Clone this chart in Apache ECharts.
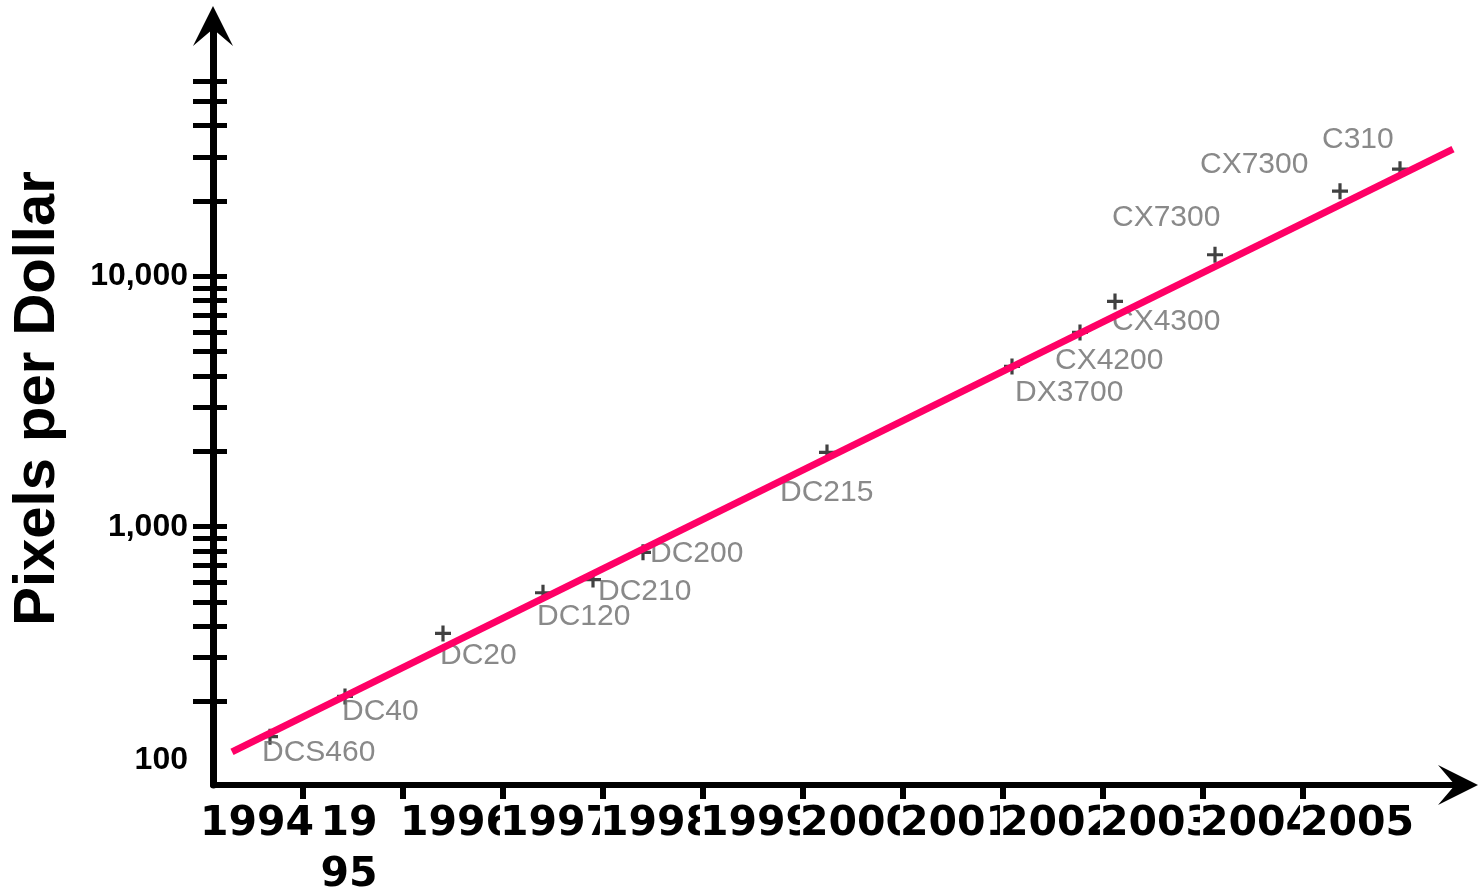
<!DOCTYPE html>
<html>
<head>
<meta charset="utf-8">
<script src="https://cdn.jsdelivr.net/npm/echarts@6/dist/echarts.min.js"></script>
<style>
  html, body { margin: 0; padding: 0; background: #ffffff; }
  #chart { width: 1480px; height: 892px; }
</style>
</head>
<body>
<div id="chart"></div>
<script>
// Camera models, their release dates (fractional years) and pixels per dollar
const cameras = ['DCS460', 'DC40', 'DC20', 'DC120', 'DC210', 'DC200', 'DC215',
                 'DX3700', 'CX4200', 'CX4300', 'CX7300', 'CX7300', 'C310'];
const releaseYears = [1994.67, 1995.42, 1996.40, 1997.40, 1997.90, 1998.40, 2000.24,
                      2002.09, 2002.77, 2003.12, 2004.12, 2005.37, 2005.97];
const pixelsPerDollar = [145, 210, 375, 545, 615, 790, 1980,
                         4370, 5970, 7940, 12200, 21900, 26800];

// Exponential trend line (straight on the log axis): two end points
const trendYears = [1994.29, 2006.5];
const trendValues = [126, 32200];

// Axis ticks and labels
const yearLabels = [1994, 1995, 1996, 1997, 1998, 1999, 2000, 2001, 2002, 2003, 2004, 2005];
const yearTicks = [1995, 1996, 1997, 1998, 1999, 2000, 2001, 2002, 2003, 2004, 2005];
const yLabelValues = [100, 1000, 10000];
const yTickValues = [200, 300, 400, 500, 600, 700, 800, 900,
                     1000, 2000, 3000, 4000, 5000, 6000, 7000, 8000, 9000,
                     10000, 20000, 30000, 40000, 50000, 60000];

// Label placement for each camera name, in pixels from its marker
const labelOffsets = [[-8, 16], [-3, 15], [-3, 22], [-6, 24], [5, 12], [7, 1], [-47, 40],
                      [3, 26], [-25, 28], [-3, 20], [-103, -37], [-140, -26], [-78, -29]];

const X_MIN = 1994.1, X_MAX = 2006.55;
const Y_MIN = 93, Y_MAX = 100000;

const arrowPath = 'path://M0,0 L20,40 L0,23 L-20,40 Z';
const plusPath = 'path://M-1.6,-8 L1.6,-8 L1.6,-1.6 L8,-1.6 L8,1.6 L1.6,1.6 L1.6,8 L-1.6,8 L-1.6,1.6 L-8,1.6 L-8,-1.6 L-1.6,-1.6 Z';

const yearFont = { color: '#000', fontFamily: 'DejaVu Sans', fontWeight: 'bold', fontSize: 41 };

function withCommas(v) {
  return String(Math.round(v)).replace(/\B(?=(\d{3})+(?!\d))/g, ',');
}

// Year labels sit near the middle of each year; a blank trailing slot keeps
// the min/max label overlap check from dropping any year.
const yearLabelSlots = yearLabels.map(y => y + 0.54).concat([2006.5]);

const points = cameras.map((name, i) => ({
  name: name,
  value: [releaseYears[i], pixelsPerDollar[i]],
  label: { offset: labelOffsets[i] }
}));

const chart = echarts.init(document.getElementById('chart'), null, { renderer: 'canvas' });

chart.setOption({
  backgroundColor: '#ffffff',
  animation: false,
  grid: { left: 213, right: 22, top: 26, bottom: 107, containLabel: false, outerBoundsMode: 'none' },
  xAxis: [
    {
      // year labels (boxed in white, each one overlapping the previous)
      type: 'value', position: 'bottom', min: X_MIN, max: X_MAX,
      splitLine: { show: false },
      axisLine: { show: false, onZero: false },
      axisTick: { show: false },
      axisLabel: {
        customValues: yearLabelSlots,
        showMinLabel: true, showMaxLabel: true, hideOverlap: false,
        formatter: v => {
          const y = Math.floor(v);
          if (y > 2005) return ' ';
          return y === 1995 ? '{w|19}\n{w|95}' : String(y);
        },
        color: yearFont.color, fontFamily: yearFont.fontFamily,
        fontWeight: yearFont.fontWeight, fontSize: yearFont.fontSize,
        lineHeight: 51, backgroundColor: '#ffffff', margin: 14,
        rich: {
          w: Object.assign({ lineHeight: 51, padding: [0, 16, 0, 0] }, yearFont)
        }
      }
    },
    {
      // axis line with arrow head, and year ticks drawn over the labels
      type: 'value', position: 'bottom', min: X_MIN, max: X_MAX,
      splitLine: { show: false },
      axisLine: {
        show: true, onZero: false,
        lineStyle: { color: '#000', width: 6 },
        symbol: ['none', arrowPath], symbolSize: [40, 40]
      },
      axisLabel: { show: false },
      axisTick: {
        show: true, customValues: yearTicks, length: 20, inside: false,
        lineStyle: { color: '#000', width: 6 }
      }
    }
  ],
  yAxis: [
    {
      type: 'log', logBase: 10, position: 'left', min: Y_MIN, max: Y_MAX,
      name: 'Pixels per Dollar', nameLocation: 'middle', nameGap: 146,
      nameTextStyle: {
        color: '#000', fontFamily: 'Liberation Sans', fontWeight: 'bold', fontSize: 58,
        padding: [0, 0, 0, 14]
      },
      splitLine: { show: false },
      axisLine: {
        show: true, onZero: false,
        lineStyle: { color: '#000', width: 7 },
        symbol: ['none', arrowPath], symbolSize: [40, 40]
      },
      axisTick: {
        show: true, customValues: yTickValues, length: 20, inside: false,
        lineStyle: { color: '#000', width: 5 }
      },
      axisLabel: {
        customValues: yLabelValues,
        showMinLabel: true, showMaxLabel: true,
        formatter: v => (Math.round(v) === 100 ? '{lo|100}' : withCommas(v)),
        color: '#000', fontFamily: 'Liberation Sans', fontWeight: 'bold', fontSize: 32,
        margin: 25,
        rich: {
          lo: { color: '#000', fontFamily: 'Liberation Sans', fontWeight: 'bold', fontSize: 32, padding: [0, 0, 34, 0] }
        }
      }
    },
    {
      type: 'log', logBase: 10, position: 'left', min: Y_MIN, max: Y_MAX,
      splitLine: { show: false },
      axisLine: { show: false, onZero: false },
      axisLabel: { show: false },
      axisTick: {
        show: true, customValues: yTickValues, length: 14, inside: true,
        lineStyle: { color: '#000', width: 5 }
      }
    }
  ],
  series: [
    {
      type: 'scatter',
      xAxisIndex: 0, yAxisIndex: 0,
      z: 2,
      symbol: plusPath, symbolSize: 16,
      itemStyle: { color: '#111111' },
      label: {
        show: true, position: 'inside',
        formatter: p => p.name,
        align: 'left', verticalAlign: 'middle',
        color: '#6c6c6c', fontFamily: 'Liberation Sans', fontSize: 30
      },
      data: points
    },
    {
      type: 'line',
      xAxisIndex: 0, yAxisIndex: 0,
      z: 3,
      symbol: 'none',
      lineStyle: { color: '#ff0066', width: 7, cap: 'butt' },
      data: trendYears.map((x, i) => [x, trendValues[i]])
    }
  ]
});
</script>
</body>
</html>
